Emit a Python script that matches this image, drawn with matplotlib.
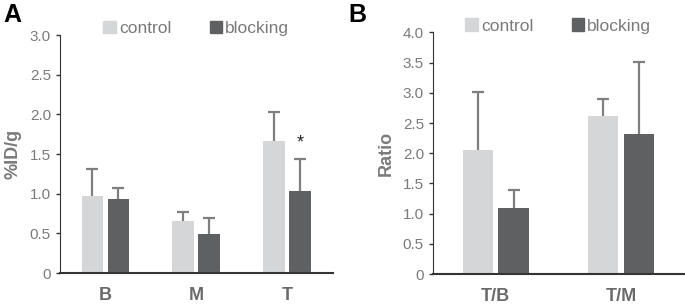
import matplotlib
matplotlib.use("Agg")
import matplotlib.pyplot as plt
import numpy as np
from matplotlib.patches import Patch

plt.rcParams["font.family"] = ["Liberation Sans", "DejaVu Sans"]

organs = ["B", "M", "T"]
organ_control = [0.97, 0.65, 1.67]
organ_control_err = [0.34, 0.115, 0.36]
organ_blocking = [0.93, 0.49, 1.04]
organ_blocking_err = [0.14, 0.21, 0.40]

ratios = ["T/B", "T/M"]
ratio_control = [2.05, 2.61]
ratio_control_err = [0.97, 0.28]
ratio_blocking = [1.10, 2.32]
ratio_blocking_err = [0.29, 1.19]

CONTROL = "#d5d6d7"
BLOCKING = "#5f6061"
TEXT = "#7a7a7a"
ERR = "#7f7f7f"


def upper_error(ax, x, top, err):
    top = np.asarray(top)
    err = np.asarray(err)
    ax.errorbar(x, top, yerr=[np.zeros(len(x)), err], fmt="none",
                ecolor=ERR, elinewidth=1.6, capsize=0, zorder=1)
    ax.plot(x, top + err, ls="none", marker="_", markersize=9,
            markeredgewidth=1.6, color=ERR, zorder=1)


def draw_panel(ax, cats, ctrl, ctrl_err, blk, blk_err, ymax, yticks, ylabel):
    x = np.arange(len(cats))
    width = 0.24
    off = 0.143
    ax.bar(x - off, ctrl, width, color=CONTROL, zorder=2)
    ax.bar(x + off, blk, width, color=BLOCKING, zorder=2)
    upper_error(ax, x - off, ctrl, ctrl_err)
    upper_error(ax, x + off, blk, blk_err)
    ax.set_xlim(-0.5, len(cats) - 0.5)
    ax.set_ylim(0, ymax)
    ax.set_yticks(yticks)
    ax.set_yticklabels(["0" if t == 0 else f"{t:.1f}" for t in yticks])
    ax.set_xticks(x)
    ax.set_xticklabels(cats, fontsize=13, fontweight="bold", color="#6a6a6a")
    ax.tick_params(axis="x", length=0, pad=10)
    ax.tick_params(axis="y", direction="out", length=3, width=1,
                   labelsize=11, labelcolor=TEXT, color="#333333")
    for s in ["top", "right"]:
        ax.spines[s].set_visible(False)
    ax.spines["left"].set_color("#333333")
    ax.spines["bottom"].set_color("#333333")
    ax.spines["bottom"].set_linewidth(1.5)
    ax.set_ylabel(ylabel, fontsize=13, fontweight="bold", color=TEXT, labelpad=6)
    handles = [Patch(color=CONTROL, label="control"), Patch(color=BLOCKING, label="blocking")]
    ax.legend(handles=handles, loc="lower center", bbox_to_anchor=(0.5, 0.93),
              ncol=2, frameon=False, fontsize=12.5, handlelength=0.7, handleheight=0.7,
              handletextpad=0.2, columnspacing=2.2, labelcolor=TEXT)


fig = plt.figure(figsize=(6.85, 3.08), dpi=100)
ax1 = fig.add_axes([0.0876, 0.1136, 0.398, 0.772])
ax2 = fig.add_axes([0.632, 0.110, 0.366, 0.785])

draw_panel(ax1, organs, organ_control, organ_control_err, organ_blocking,
           organ_blocking_err, 3.0, [0, 0.5, 1.0, 1.5, 2.0, 2.5, 3.0], "%ID/g")
ax1.text(2 + 0.143, organ_blocking[2] + organ_blocking_err[2] + 0.09, "*",
         ha="center", va="bottom", fontsize=13, color="#222222")

draw_panel(ax2, ratios, ratio_control, ratio_control_err, ratio_blocking,
           ratio_blocking_err, 4.0, [0, 0.5, 1.0, 1.5, 2.0, 2.5, 3.0, 3.5, 4.0], "Ratio")

fig.text(0.005, 0.99, "A", fontsize=18, fontweight="bold", va="top")
fig.text(0.508, 0.99, "B", fontsize=18, fontweight="bold", va="top")

fig.savefig("out.png", dpi=100)
